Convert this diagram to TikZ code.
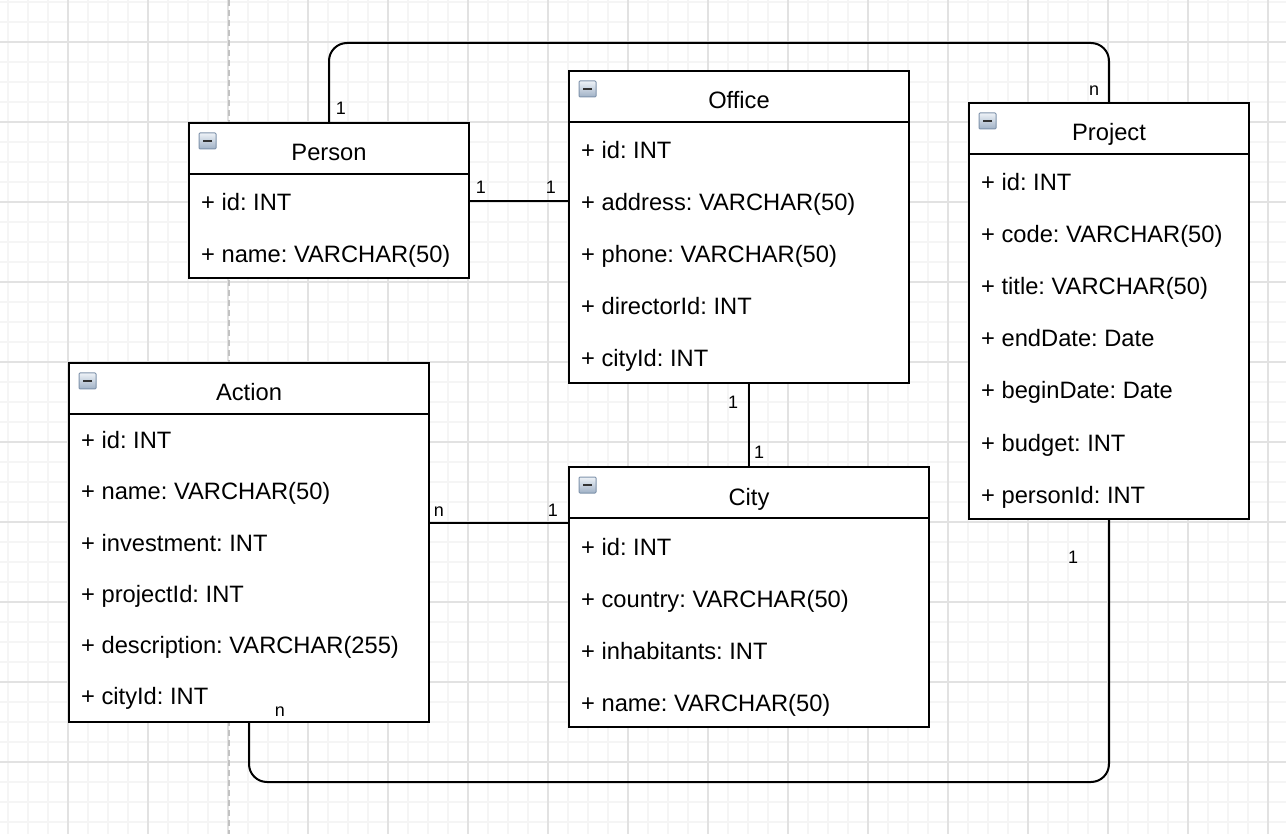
\documentclass[tikz,border=0pt]{standalone}
\usepackage{fontspec}
\setmainfont{Liberation Sans}
\frenchspacing
\definecolor{gridminor}{HTML}{F5F5F5}
\definecolor{gridmajor}{HTML}{E2E2E2}
\definecolor{pagebreak}{HTML}{C2C2C2}
\definecolor{icontop}{HTML}{EEF2F7}
\definecolor{iconbot}{HTML}{9FB1C6}
\definecolor{iconborder}{HTML}{7F93AB}
\tikzset{
  tablebox/.style={draw, line width=2pt, fill=white, inner sep=0pt, rectangle},
  divider/.style={line width=2pt},
  edge/.style={line width=2pt, rounded corners=18pt},
  titletext/.style={inner sep=0pt, text height=17pt, text depth=5pt, font=\fontsize{23.7}{28}\selectfont},
  attr/.style={inner sep=0pt, anchor=west, text height=17pt, text depth=5pt, font=\fontsize{23.7}{28}\selectfont},
  card/.style={inner sep=0pt, text height=13pt, text depth=0pt, font=\fontsize{18}{20}\selectfont},
  icon/.style={draw=iconborder, line width=1pt, top color=icontop, bottom color=iconbot,
               minimum width=17pt, minimum height=16pt, inner sep=0pt, rectangle, rounded corners=1pt},
}
\newcommand\myrowh{52}
% name, x, y, w, h, title
\newcommand\erbox[6]{%
  \node[tablebox, minimum width=#4pt, minimum height=#5pt] (#1) at ({#2+#4/2},{#3+#5/2}) {};
  \draw[divider] ([yshift=-52pt]#1.north west) -- ([yshift=-52pt]#1.north east);
  \node[titletext] (#1-title) at ({#2+#4/2},{#3+32}) {#6};
  \node[icon] (#1-icon) at ({#2+18.5},{#3+18}) {};
  \draw[line width=2.5pt, black!80] ([xshift=4.5pt]#1-icon.center) -- ([xshift=-4.5pt]#1-icon.center);
}
% boxname, x, y, index, text
\newcommand\errow[5]{%
  \node[attr] (#1-r#4) at ({#2+12},{#3+52+\myrowh/2+4+\myrowh*(#4-1)}) {#5};
}
\begin{document}
\begin{tikzpicture}[x=1pt,y=-1pt]
\useasboundingbox (0,0) rectangle (1286,834);
\fill[white] (0,0) rectangle (1286,834);
% grid
\foreach \gx in {8,28,...,1286} \draw[gridminor, line width=1.6pt] (\gx,0) -- (\gx,834);
\foreach \gy in {2,22,...,834} \draw[gridminor, line width=1.6pt] (0,\gy) -- (1286,\gy);
\foreach \gx in {68,148,...,1286} \draw[gridmajor, line width=1.6pt] (\gx,0) -- (\gx,834);
\foreach \gy in {42,122,...,834} \draw[gridmajor, line width=1.6pt] (0,\gy) -- (1286,\gy);
% page break
\draw[pagebreak, line width=2pt, dash pattern=on 6pt off 4pt] (229,0) -- (229,834);

% Person
\erbox{person}{189}{123}{280}{155}{Person}
\errow{person}{189}{123}{1}{+ id: INT}
\errow{person}{189}{123}{2}{+ name: VARCHAR(50)}

% Office
\erbox{office}{569}{71}{340}{312}{Office}
\errow{office}{569}{71}{1}{+ id: INT}
\errow{office}{569}{71}{2}{+ address: VARCHAR(50)}
\errow{office}{569}{71}{3}{+ phone: VARCHAR(50)}
\errow{office}{569}{71}{4}{+ directorId: INT}
\errow{office}{569}{71}{5}{+ cityId: INT}

% Project
\erbox{project}{969}{103}{280}{416}{Project}
\errow{project}{969}{103}{1}{+ id: INT}
\errow{project}{969}{103}{2}{+ code: VARCHAR(50)}
\errow{project}{969}{103}{3}{+ title: VARCHAR(50)}
\errow{project}{969}{103}{4}{+ endDate: Date}
\errow{project}{969}{103}{5}{+ beginDate: Date}
\errow{project}{969}{103}{6}{+ budget: INT}
\errow{project}{969}{103}{7}{+ personId: INT}

% City
\erbox{city}{569}{467}{360}{260}{City}
\errow{city}{569}{467}{1}{+ id: INT}
\errow{city}{569}{467}{2}{+ country: VARCHAR(50)}
\errow{city}{569}{467}{3}{+ inhabitants: INT}
\errow{city}{569}{467}{4}{+ name: VARCHAR(50)}

% Action
\renewcommand\myrowh{51.2}
\erbox{action}{69}{363}{360}{359}{Action}
\errow{action}{69}{361}{1}{+ id: INT}
\errow{action}{69}{361}{2}{+ name: VARCHAR(50)}
\errow{action}{69}{361}{3}{+ investment: INT}
\errow{action}{69}{361}{4}{+ projectId: INT}
\errow{action}{69}{361}{5}{+ description: VARCHAR(255)}
\errow{action}{69}{361}{6}{+ cityId: INT}

% connectors
\coordinate (topway) at (0,43);
\coordinate (bottomway) at (0,782);
\coordinate (acway) at (0,523);
\coordinate (powway) at (0,201);
\draw[edge] (person.north) -- (person.north |- topway) -- (project.north |- topway) -- (project.north);
\draw[edge] (person.east |- powway) -- (office.west |- powway);
\draw[edge] (city.north) -- (city.north |- office.south);
\draw[edge] (action.east |- acway) -- (city.west |- acway);
\draw[edge] (project.south) -- (project.south |- bottomway) -- (action.south |- bottomway) -- (action.south);

% cardinalities
\node[card] (c1) at (341,108) {1};
\node[card] (c2) at (1094,89) {n};
\node[card] (c3) at (481,187) {1};
\node[card] (c4) at (551,187) {1};
\node[card] (c5) at (733,402) {1};
\node[card] (c6) at (759,452) {1};
\node[card] (c7) at (439,510) {n};
\node[card] (c8) at (553,510) {1};
\node[card] (c9) at (1073,557) {1};
\node[card] (c10) at (280,710) {n};
\end{tikzpicture}
\end{document}
